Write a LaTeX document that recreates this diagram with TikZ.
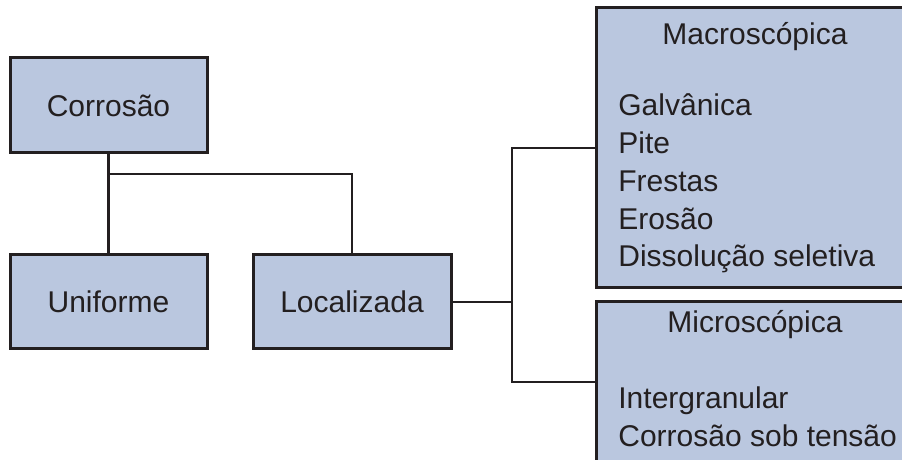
\documentclass[tikz,border=0pt]{standalone}
\usepackage{fontspec}
\setmainfont{Liberation Sans}
\usetikzlibrary{positioning, calc}
\definecolor{boxblue}{RGB}{186,199,223}
\definecolor{inkgray}{RGB}{35,31,32}
\tikzset{
  blk/.style={draw=inkgray, line width=1.5pt, fill=boxblue, inner sep=0pt, text=inkgray,
    font=\fontsize{15}{18.85}\selectfont},
  lbl/.style={inner sep=0pt, text=inkgray, font=\fontsize{15}{18.85}\selectfont},
  wire/.style={draw=inkgray, line width=1.4pt},
}
\begin{document}
\begin{tikzpicture}[x=0.5pt, y=-0.5pt]
    \useasboundingbox (0,0) rectangle (902,460);
    \clip (0,0) rectangle (902,460);
    \node[blk, minimum width=98.5pt, minimum height=47.5pt] (corr) at (108.5,105.5) {Corrosão};
    \node[blk, minimum width=98.5pt, minimum height=47pt] (unif) at (108.5,302) {Uniforme};
    \node[blk, minimum width=99pt, minimum height=47pt] (local) at (352,302) {Localizada};
    \node[blk, minimum width=159pt, minimum height=140pt] (macro) at (755,148) {};
    \node[blk, minimum width=159pt, minimum height=80pt] (micro) at (755,382) {};
    % titles and lists
    \node[lbl, anchor=base] (macrotitle) at (755,45) {Macroscópica};
    \foreach \kind [count=\i from 0] in {Galvânica, Pite, Frestas, Erosão, Dissolução seletiva}
      \node[lbl, anchor=base west] (macro\i) at (618,116+37.7*\i) {\kind};
    \node[lbl, anchor=base] (microtitle) at (755,333) {Microscópica};
    \foreach \kind [count=\i from 0] in {Intergranular, Corrosão sob tensão}
      \node[lbl, anchor=base west] (micro\i) at (618,409+37.7*\i) {\kind};
    % connectors
    \coordinate (fork) at (corr.south |- 0,174);
    \coordinate (hub) at (512,302);
    \draw[wire] (corr.south) -- (unif.north);
    \draw[wire] (fork) -| (local.north);
    \draw[wire] (local.east) -- (hub);
    \draw[wire] (macro.west) -| (hub) |- (micro.west);
  \end{tikzpicture}
\end{document}
